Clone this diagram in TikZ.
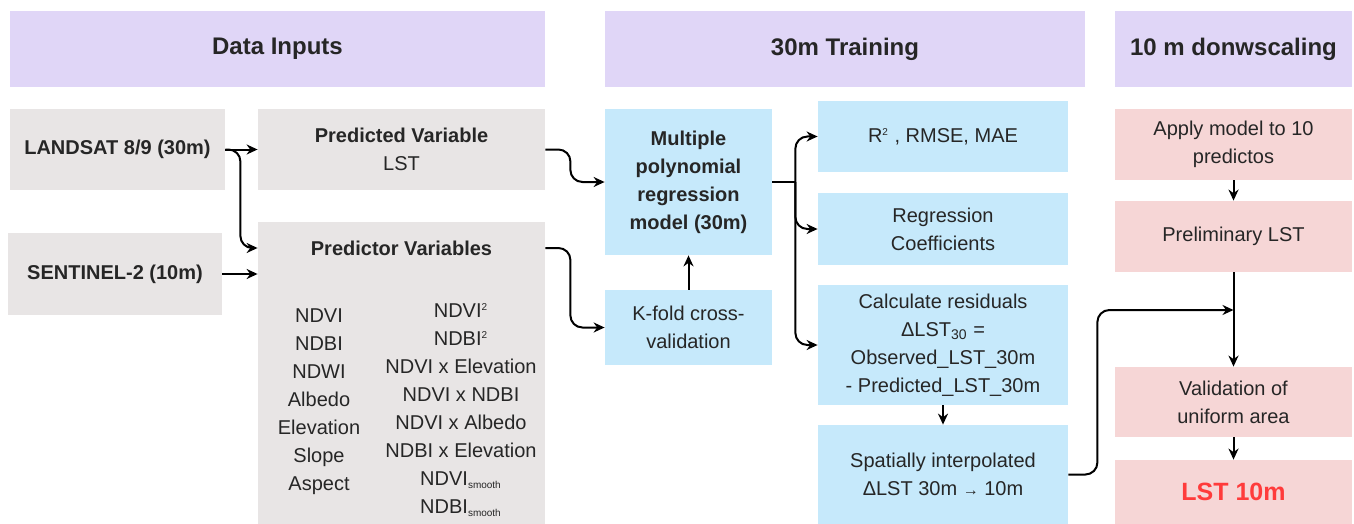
\documentclass[tikz,border=0pt]{standalone}
\usepackage{fontspec}
\setmainfont{Liberation Sans}
\usetikzlibrary{arrows.meta}
\definecolor{headlav}{HTML}{E0D6F7}
\definecolor{inputgray}{HTML}{E8E5E5}
\definecolor{trainblue}{HTML}{C6E9FB}
\definecolor{downpink}{HTML}{F6D6D6}
\definecolor{lstred}{HTML}{FF3B3B}
\newcommand{\sq}{\textsuperscript{\tiny 2}}
\begin{document}
\begin{tikzpicture}[x=0.5pt,y=-0.5pt,
  every node/.style={text=black!85,font=\fontsize{10}{14}\selectfont,align=center},
  bold/.style={font=\fontsize{10}{14}\selectfont\bfseries},
  header/.style={fill=headlav,minimum height=38pt,font=\fontsize{12}{14}\selectfont\bfseries},
  inbox/.style={fill=inputgray},
  trainbox/.style={fill=trainblue,minimum width=125pt},
  downbox/.style={fill=downpink,minimum width=118.5pt,minimum height=35.5pt},
  flow/.style={-{Stealth[length=5.5pt,width=5pt]},line width=1pt,rounded corners=6pt}]
  \useasboundingbox (0,0) rectangle (1354,524);
  % Column headers
  \node[header,minimum width=267.5pt] (hinputs) at (277.5,49) {Data Inputs};
  \node[header,minimum width=240pt] (htrain) at (845,49) {30m Training};
  \node[header,minimum width=118.5pt] (hdown) at (1233.5,49) {10 m donwscaling};
  % Data inputs
  \node[inbox,bold,minimum width=107.5pt,minimum height=40.5pt] (landsat) at (117.5,149.5) {LANDSAT 8/9 (30m)};
  \node[inbox,bold,minimum width=107pt,minimum height=41pt] (sentinel) at (115,274) {SENTINEL-2 (10m)};
  \node[inbox,minimum width=143.5pt,minimum height=40.5pt] (predicted) at (401.5,149.5) {\textbf{Predicted Variable}\\LST};
  \node[inbox,minimum width=143.5pt,minimum height=151pt] (predictor) at (401.5,373) {};
  \node[bold] (ptitle) at (401.5,248) {Predictor Variables};
  \node (pbase) at (319,401.5) {NDVI\\NDBI\\NDWI\\Albedo\\Elevation\\Slope\\Aspect};
  \node (pderived) at (461,410) {NDVI\sq\\NDBI\sq\\NDVI x Elevation\\NDVI x NDBI\\NDVI x Albedo\\NDBI x Elevation\\NDVI\textsubscript{\tiny smooth}\\NDBI\textsubscript{\tiny smooth}};
  % 30m training
  \node[trainbox,bold,minimum width=83.5pt,minimum height=73pt] (model) at (688.5,182) {Multiple\\polynomial\\regression\\model (30m)};
  \node[trainbox,minimum width=83.5pt,minimum height=37.5pt] (kfold) at (688.5,327.5) {K-fold cross-\\validation};
  \node[trainbox,minimum height=35.5pt] (metrics) at (943,136.5) {R\sq\ , RMSE, MAE};
  \node[trainbox,minimum height=36pt] (coeffs) at (943,229) {Regression\\Coefficients};
  \node[trainbox,minimum height=60pt] (resid) at (943,345) {Calculate residuals\\ΔLST\textsubscript{30} =\\Observed\_LST\_30m\\- Predicted\_LST\_30m};
  \node[trainbox,minimum height=49.5pt] (interp) at (943,474.5) {Spatially interpolated\\ΔLST 30m {\footnotesize →} 10m};
  % 10 m downscaling
  \node[downbox] (apply) at (1233.5,144.5) {Apply model to 10\\predictos};
  \node[downbox] (prelim) at (1233.5,236.5) {Preliminary LST};
  \node[downbox,minimum height=35pt] (valid) at (1233.5,402) {Validation of\\uniform area};
  \node[downbox,minimum height=32pt,text=lstred,font=\fontsize{12.5}{14}\selectfont\bfseries] (lst) at (1233.5,492) {LST 10m};
  % Connectors
  \coordinate (split) at ([xshift=11.5pt]model.east);
  \coordinate (join) at (1233.5,310);
  \draw[flow] (landsat.east) -- (predicted.west);
  \draw[flow] (landsat.east) -- ++(15,0) |- (ptitle -| predictor.west);
  \draw[flow] (sentinel.east) -- (sentinel.east -| predictor.west);
  \draw[flow] (predicted.east) -- ++(25,0) |- (model.west);
  \draw[flow] (ptitle -| predictor.east) -- ++(25,0) |- (kfold.west);
  \draw[flow] (kfold.north) -- (model.south);
  \draw[line width=1pt] (model.east) -- (split);
  \foreach \n in {metrics,coeffs,resid}
    \draw[flow] (split) |- (\n.west);
  \draw[flow] (resid.south) -- (interp.north);
  \draw[flow] (interp.east) -- ++(29,0) |- (join);
  \draw[flow] (apply.south) -- (prelim.north);
  \draw[flow] (prelim.south) -- (valid.north);
  \draw[flow] (valid.south) -- (lst.north);
\end{tikzpicture}
\end{document}
